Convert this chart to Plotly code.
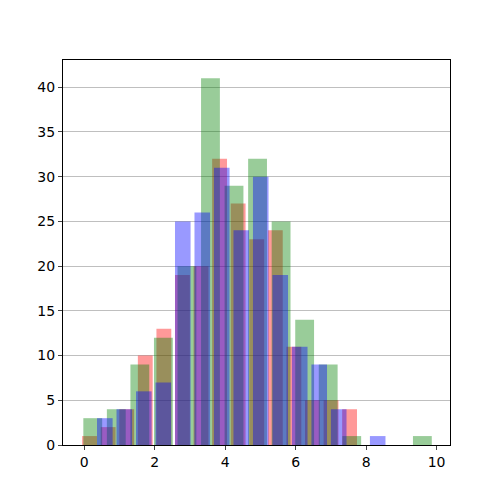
import numpy as np
import plotly.graph_objects as go

# histogram counts (15 bins each)
red_counts = [1, 2, 4, 10, 13, 19, 20, 32, 27, 23, 24, 11, 5, 5, 4]
green_counts = [3, 4, 9, 12, 20, 41, 29, 32, 25, 14, 9, 1, 0, 0, 1]
blue_counts = [3, 4, 6, 7, 25, 26, 31, 24, 30, 19, 11, 9, 4, 0, 1]

# bin edges: start and bin width of each series
red_bins = (-0.11, 0.527)
green_bins = (-0.09, 0.668)
blue_bins = (0.31, 0.553)

series = [
    (red_counts, red_bins, "rgba(255,0,0,0.4)"),
    (green_counts, green_bins, "rgba(0,128,0,0.4)"),
    (blue_counts, blue_bins, "rgba(0,0,255,0.4)"),
]

fig = go.Figure()
for counts, (start, step), color in series:
    edges = start + step * np.arange(len(counts) + 1)
    centers = (edges[:-1] + edges[1:]) / 2
    fig.add_trace(go.Bar(x=centers, y=counts, width=step * 0.8,
                         marker=dict(color=color, line=dict(width=0)),
                         showlegend=False))

# the page body adds an 8px offset, so margins are shifted to compensate
fig.update_layout(
    barmode="overlay",
    width=500, height=500,
    margin=dict(l=55, r=58, t=52, b=63),
    plot_bgcolor="white", paper_bgcolor="white",
    font=dict(family="DejaVu Sans", size=14, color="black"),
)
fig.update_xaxes(range=[-0.6, 10.38], tickvals=[0, 2, 4, 6, 8, 10],
                 ticks="outside", ticklen=4, showline=True, linecolor="black",
                 mirror=True, showgrid=False, zeroline=False, automargin=False)
fig.update_yaxes(range=[0, 43.05], tickvals=[0, 5, 10, 15, 20, 25, 30, 35, 40],
                 ticks="outside", ticklen=4, showline=True, linecolor="black",
                 mirror=True, showgrid=True, gridcolor="#bfbfbf", zeroline=False,
                 automargin=False)

fig.write_html("out.html")
